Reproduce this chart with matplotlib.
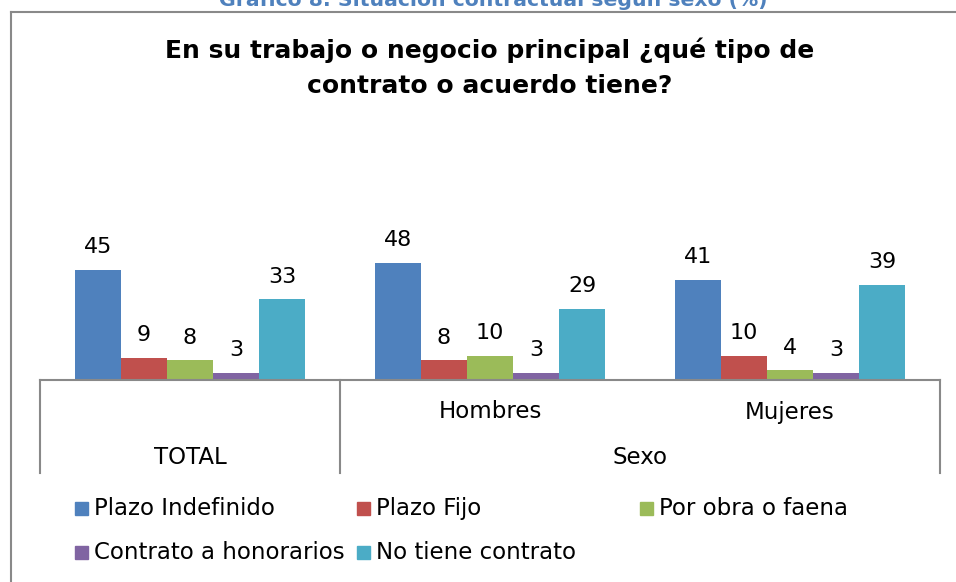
import matplotlib
matplotlib.use("Agg")
import matplotlib.pyplot as plt
import matplotlib.transforms as mtrans
from matplotlib.patches import Rectangle
from matplotlib.lines import Line2D
import numpy as np

plt.rcParams['font.family'] = ['DejaVu Sans']

grupos = ["TOTAL", "Hombres", "Mujeres"]
series = ["Plazo Indefinido", "Plazo Fijo", "Por obra o faena",
          "Contrato a honorarios", "No tiene contrato"]
valores = {
    "Plazo Indefinido": [45, 48, 41],
    "Plazo Fijo": [9, 8, 10],
    "Por obra o faena": [8, 10, 4],
    "Contrato a honorarios": [3, 3, 3],
    "No tiene contrato": [33, 29, 39],
}
colores = ["#4F81BD", "#C0504D", "#9BBB59", "#8064A2", "#4BACC6"]

W, H = 956, 582
fig = plt.figure(figsize=(W / 100, H / 100), dpi=100)

def fx(px):
    return px / W

def fy(py):
    return 1 - py / H

# marco exterior
fig.add_artist(Line2D([fx(11), fx(11)], [fy(12), -0.1], color="#898989", lw=1.5))
fig.add_artist(Line2D([fx(11), 1.1], [fy(12), fy(12)], color="#898989", lw=1.5))

# titulo cortado arriba (igual que en la imagen original)
fig.text(fx(493), fy(6), "Gráfico 8. Situación contractual según sexo (%)",
         ha="center", va="baseline", fontsize=14.7, fontweight="bold", color="#4F81BD")

fig.text(fx(490), fy(50), "En su trabajo o negocio principal ¿qué tipo de",
         ha="center", va="center", fontsize=18, fontweight="bold", color="black")
fig.text(fx(490), fy(86), "contrato o acuerdo tiene?",
         ha="center", va="center", fontsize=18, fontweight="bold", color="black")

ax = fig.add_axes([fx(40), fy(380), 900 / W, 146.7 / H])
x = np.arange(len(grupos))
ancho = 46 / 300
for i, s in enumerate(series):
    pos = x + (i - 2) * ancho
    ax.bar(pos, valores[s], width=ancho, color=colores[i], label=s)
    for p, v in zip(pos, valores[s]):
        ax.annotate(str(v), (p, v), xytext=(0, 12), textcoords="offset points",
                    ha="center", va="baseline", fontsize=16)

ax.set_xlim(-0.5, 2.5)
ax.set_ylim(0, 60)
for sp in ["top", "left", "right"]:
    ax.spines[sp].set_visible(False)
ax.spines["bottom"].set_color("#898989")
ax.spines["bottom"].set_linewidth(1.5)
ax.set_xticks([])
ax.set_yticks([])

tr = mtrans.blended_transform_factory(ax.transData, fig.transFigure)
for xv in [-0.5, 0.5, 2.5]:
    ax.add_artist(Line2D([xv, xv], [fy(380), fy(473)], transform=tr,
                         color="#898989", lw=1.5, clip_on=False))

ax.text(1, fy(412), "Hombres", transform=tr, ha="center", va="center", fontsize=16.5)
ax.text(2, fy(412), "Mujeres", transform=tr, ha="center", va="center", fontsize=16.5)
ax.text(0, fy(457), "TOTAL", transform=tr, ha="center", va="center", fontsize=16.5)
ax.text(1.5, fy(457), "Sexo", transform=tr, ha="center", va="center", fontsize=16.5)

# leyenda
pos_ley = [(75, 508.5), (357, 508.5), (640, 508.5), (75, 552.5), (357, 552.5)]
for (lx, ly), s, c in zip(pos_ley, series, colores):
    fig.add_artist(Rectangle((fx(lx), fy(ly + 6.5)), 13 / W, 13 / H,
                             transform=fig.transFigure, color=c))
    fig.text(fx(lx + 19), fy(ly), s, ha="left", va="center", fontsize=16.5)

fig.savefig("out.png", dpi=100)
